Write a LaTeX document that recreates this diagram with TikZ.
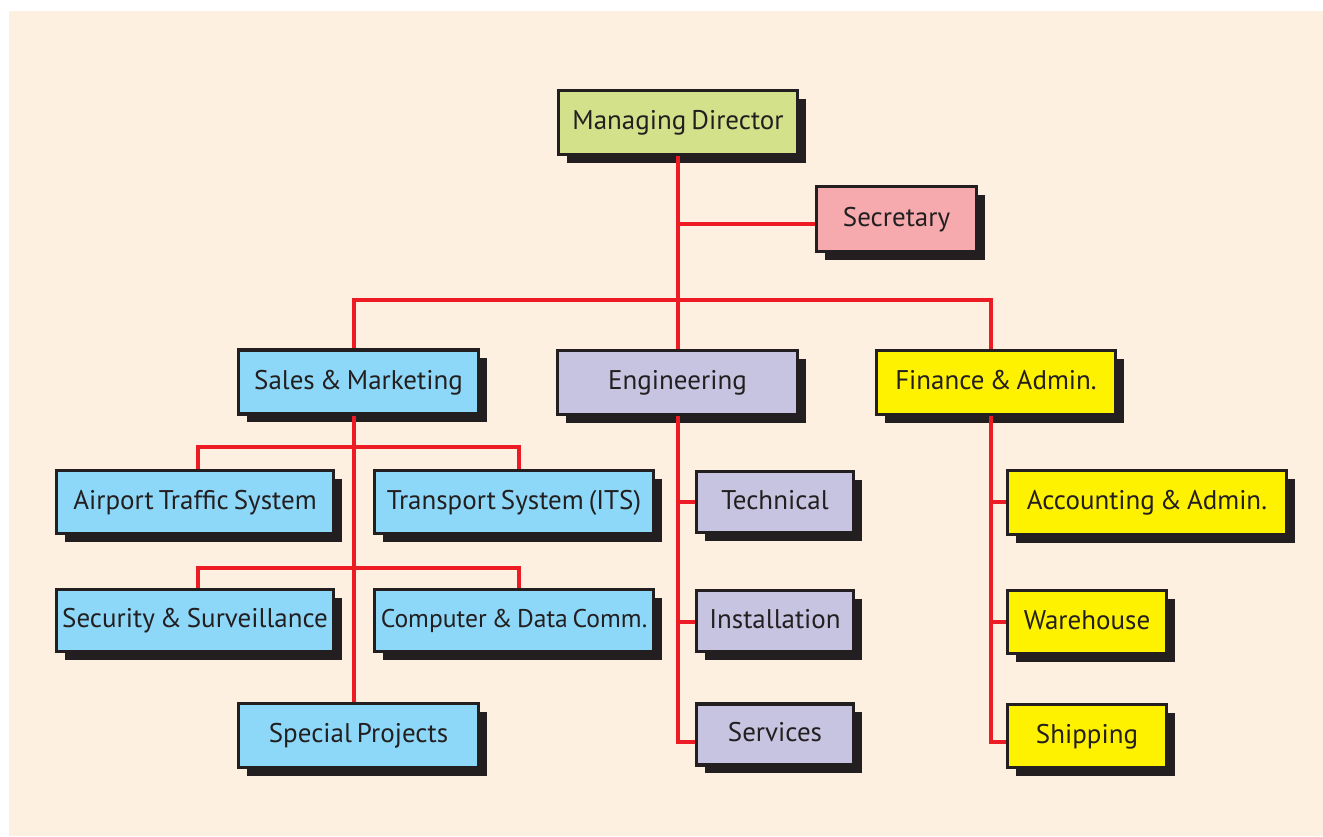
\documentclass[tikz,border=0pt]{standalone}
\usepackage{fontspec}
\setmainfont{PT Sans}[WordSpace=0.7]
\usetikzlibrary{shadows}
\definecolor{bgc}{HTML}{FEF0E1}
\definecolor{dk}{HTML}{231F20}
\definecolor{redl}{HTML}{ED1C24}
\definecolor{cgreen}{HTML}{D3E28A}
\definecolor{cpink}{HTML}{F6AAAD}
\definecolor{cblue}{HTML}{8DD8F8}
\definecolor{clav}{HTML}{C7C4E1}
\definecolor{cyel}{HTML}{FFF200}
\tikzset{
  orgbox/.style={draw=dk, line width=1.6pt, inner sep=0pt, align=center,
    text=dk, font=\fontsize{13.5}{16}\selectfont,
    text height=0.85em, text depth=0.15em,
    general shadow={fill=dk, shadow xshift=4pt, shadow yshift=-4pt}},
  conn/.style={draw=redl, line width=1.7pt}
}
\begin{document}
\begin{tikzpicture}[x=0.5pt,y=-0.5pt]
\useasboundingbox (0,0) rectangle (1323,836);
\fill[white] (0,0) rectangle (1323,836);
\fill[bgc] (9,11) rectangle (1323,836);
% helper coordinates for connector columns and rows
\coordinate (ex) at (678,0);
\coordinate (sx) at (354,0);
\coordinate (fx) at (991,0);
\coordinate (ax) at (198,0);
\coordinate (tx) at (519,0);
\coordinate (j1) at (678,300);
\coordinate (b1) at (354,447);
\coordinate (b2) at (354,568);
\coordinate (ys) at (0,224);
\coordinate (y1) at (0,502);
\coordinate (y2) at (0,622);
\coordinate (y3) at (0,742);
% nodes
\node[orgbox, fill=cgreen, minimum width=119.5pt, minimum height=32pt] (md) at (678,122.5) {Managing Director};
\node[orgbox, fill=cpink, minimum width=80pt, minimum height=32.5pt] (sec) at (896.5,219) {Secretary};
\node[orgbox, fill=cblue, minimum width=120pt, minimum height=32pt] (sales) at (358.5,382) {Sales \& Marketing};
\node[orgbox, fill=clav, minimum width=120pt, minimum height=32pt] (eng) at (677.5,382.5) {Engineering};
\node[orgbox, fill=cyel, minimum width=119.5pt, minimum height=32pt] (fin) at (996,382.5) {Finance \& Admin.};
\node[orgbox, fill=cblue, minimum width=138.5pt, minimum height=31.5pt] (air) at (195,502) {Airport Traffic System};
\node[orgbox, fill=cblue, minimum width=139.5pt, minimum height=31.5pt] (its) at (514,502) {Transport System (ITS)};
\node[orgbox, fill=cblue, minimum width=138.5pt, minimum height=31pt] (secu) at (195,620.5) {Security \& Surveillance};
\node[orgbox, fill=cblue, minimum width=139.5pt, minimum height=31pt, font=\fontsize{12.8}{16}\selectfont] (comp) at (514,620.5) {Computer \& Data Comm.};
\node[orgbox, fill=cblue, minimum width=120pt, minimum height=32pt] (spec) at (358.5,735.5) {Special Projects};
\node[orgbox, fill=clav, minimum width=78.5pt, minimum height=30.5pt] (tech) at (775,502) {Technical};
\node[orgbox, fill=clav, minimum width=78.5pt, minimum height=30.5pt] (inst) at (775,621) {Installation};
\node[orgbox, fill=clav, minimum width=78.5pt, minimum height=30.5pt] (serv) at (775,734.5) {Services};
\node[orgbox, fill=cyel, minimum width=139.5pt, minimum height=32pt] (acc) at (1147,502.5) {Accounting \& Admin.};
\node[orgbox, fill=cyel, minimum width=79.5pt, minimum height=31.5pt] (ware) at (1087,622) {Warehouse};
\node[orgbox, fill=cyel, minimum width=79.5pt, minimum height=31.5pt] (ship) at (1087,736) {Shipping};
% connectors
\draw[conn] (md.south -| ex) -- (eng.north -| ex);
\draw[conn] (ex |- ys) -- (sec.west |- ys);
\draw[conn] (sales.north -| sx) |- (j1) -| (fin.north -| fx);
\draw[conn] (sales.south -| sx) -- (spec.north -| sx);
\draw[conn] (air.north -| ax) |- (b1) -| (its.north -| tx);
\draw[conn] (secu.north -| ax) |- (b2) -| (comp.north -| tx);
\draw[conn] (eng.south -| ex) |- (serv.west |- y3);
\draw[conn] (ex |- y1) -- (tech.west |- y1);
\draw[conn] (ex |- y2) -- (inst.west |- y2);
\draw[conn] (fin.south -| fx) |- (ship.west |- y3);
\draw[conn] (fx |- y1) -- (acc.west |- y1);
\draw[conn] (fx |- y2) -- (ware.west |- y2);
\end{tikzpicture}
\end{document}
